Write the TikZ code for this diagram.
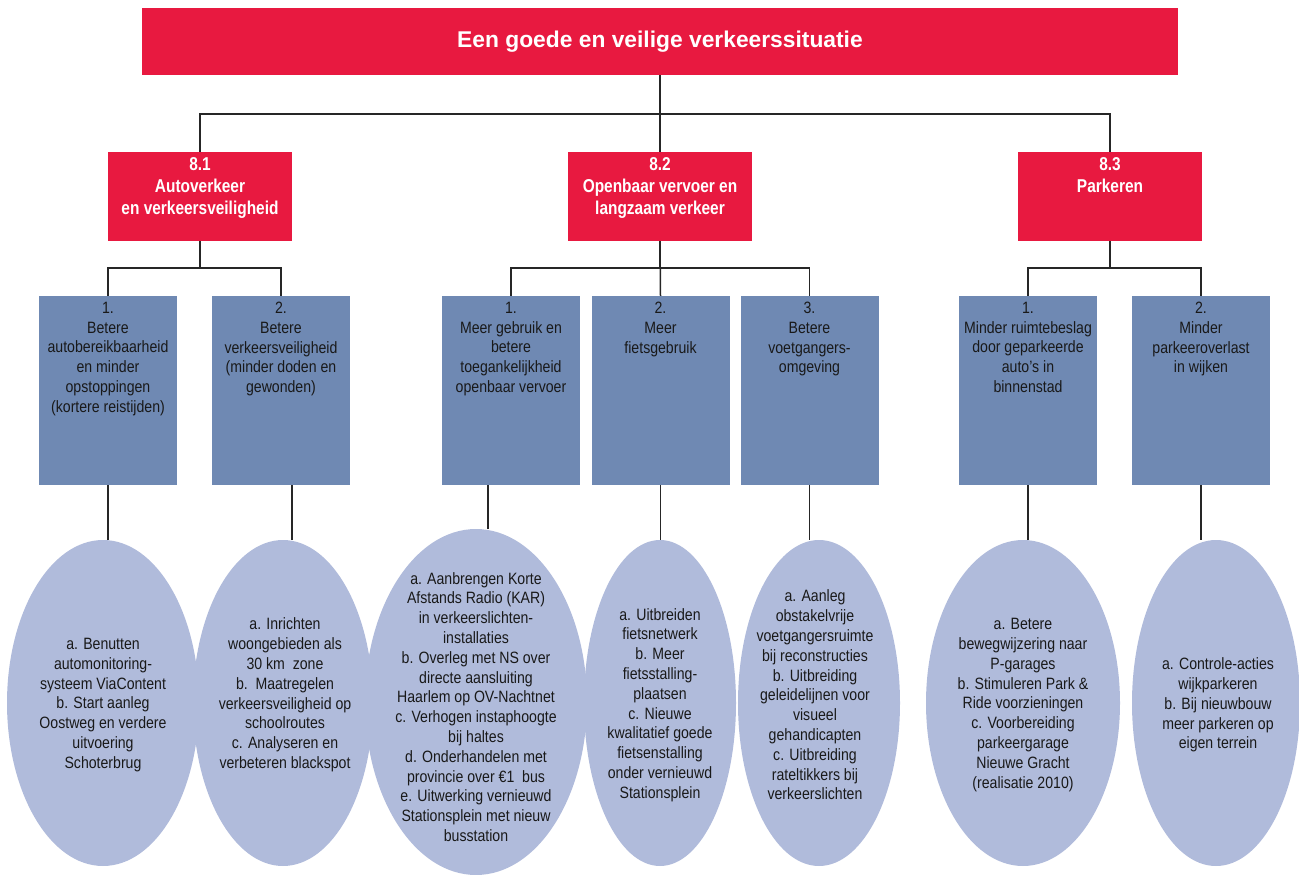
\documentclass[tikz,border=0pt]{standalone}
\usepackage{fontspec}
\setmainfont{Liberation Sans}
\newfontfamily\narrowfont{Liberation Sans}[FakeStretch=0.86]
\newfontfamily\sectionfont{Liberation Sans}[FakeStretch=0.83]
\usepackage{tikz}
\usetikzlibrary{shapes.geometric}
\usetikzlibrary{positioning}
\usetikzlibrary{calc}
\definecolor{goalred}{RGB}{232,25,64}
\definecolor{aimblue}{RGB}{111,137,179}
\definecolor{actionblue}{RGB}{176,187,219}
\begin{document}
\begin{tikzpicture}[x=1pt,y=-1pt,
  goal/.style={fill=goalred,minimum width=1036pt,minimum height=67pt,inner sep=0pt,text=white,font=\bfseries\fontsize{22.8}{27}\selectfont},
  theme/.style={fill=goalred,minimum width=184pt,minimum height=89pt,inner sep=0pt},
  themetext/.style={text=white,align=center,inner sep=0pt,font=\sectionfont\bfseries\fontsize{18.6}{22}\selectfont},
  aim/.style={fill=aimblue,minimum width=138pt,minimum height=189pt,inner sep=0pt},
  aimtext/.style={text=black!90,align=center,inner sep=0pt,font=\narrowfont\fontsize{16.4}{19.8}\selectfont},
  action/.style={ellipse,fill=actionblue,inner sep=0pt,minimum height=326pt},
  actiontext/.style={text=black!90,align=center,inner sep=0pt,font=\narrowfont\fontsize{16.4}{19.8}\selectfont},
  link/.style={line width=1.5pt,black!85}]
\useasboundingbox (0,0) rectangle (1299,875);
\node[goal] (goal) at (660,41.5) {Een goede en veilige verkeerssituatie};
\node[theme] (s1) at (200,196.5){};
\node[theme] (s2) at (660,196.5){};
\node[theme] (s3) at (1110,196.5){};
\node[themetext,below=6pt of s1.north] (ts1) {8.1\\Autoverkeer\\en verkeersveiligheid};
\node[themetext,below=6pt of s2.north] (ts2) {8.2\\Openbaar vervoer en\\langzaam verkeer};
\node[themetext,below=6pt of s3.north] (ts3) {8.3\\Parkeren};
\node[aim] (b11) at (108,390.5){};
\node[aim] (b12) at (281,390.5){};
\node[aim] (b21) at (511,390.5){};
\node[aim] (b22) at (660.5,390.5){};
\node[aim] (b23) at (809.5,390.5){};
\node[aim] (b31) at (1028,390.5){};
\node[aim] (b32) at (1201,390.5){};
\node[aimtext,below=6pt of b11.north] (tb11) {1.\\Betere\\autobereikbaarheid\\en minder\\opstoppingen\\(kortere reistijden)};
\node[aimtext,below=6pt of b12.north] (tb12) {2.\\Betere\\verkeersveiligheid\\(minder doden en\\gewonden)};
\node[aimtext,below=6pt of b21.north] (tb21) {1.\\Meer gebruik en\\betere\\toegankelijkheid\\openbaar vervoer};
\node[aimtext,below=6pt of b22.north] (tb22) {2.\\Meer\\fietsgebruik};
\node[aimtext,below=6pt of b23.north] (tb23) {3.\\Betere\\voetgangers-\\omgeving};
\node[aimtext,below=6pt of b31.north] (tb31) {1.\\Minder ruimtebeslag\\door geparkeerde\\auto’s in\\binnenstad};
\node[aimtext,below=6pt of b32.north] (tb32) {2.\\Minder\\parkeeroverlast\\in wijken};
\node[action,minimum width=192pt] (e11) at (103,703){};
\node[action,minimum width=180pt] (e12) at (283,703){};
\node[action,minimum width=222pt,minimum height=346pt] (e21) at (476,702){};
\node[action,minimum width=152pt] (e22) at (660,703){};
\node[action,minimum width=162pt] (e23) at (819,703){};
\node[action,minimum width=194pt] (e31) at (1023,703){};
\node[action,minimum width=168pt] (e32) at (1216,703){};
\node[actiontext] (te11) at (103,705) {a. Benutten\\automonitoring-\\systeem ViaContent\\b. Start aanleg\\Oostweg en verdere\\uitvoering\\Schoterbrug};
\node[actiontext] (te12) at (285,695) {a. Inrichten\\woongebieden als\\30 km\ \ zone\\b.\ \ Maatregelen\\verkeersveiligheid op\\schoolroutes\\c. Analyseren en\\verbeteren blackspot};
\node[actiontext] (te21) at (476,707) {a. Aanbrengen Korte\\Afstands Radio (KAR)\\in verkeerslichten-\\installaties\\b. Overleg met NS over\\directe aansluiting\\Haarlem op OV-Nachtnet\\c. Verhogen instaphoogte\\bij haltes\\d. Onderhandelen met\\provincie over €1\ \ bus\\e. Uitwerking vernieuwd\\Stationsplein met nieuw\\busstation};
\node[actiontext] (te22) at (660,705) {a. Uitbreiden\\fietsnetwerk\\b. Meer\\fietsstalling-\\plaatsen\\c. Nieuwe\\kwalitatief goede\\fietsenstalling\\onder vernieuwd\\Stationsplein};
\node[actiontext] (te23) at (815,695) {a. Aanleg\\obstakelvrije\\voetgangersruimte\\bij reconstructies\\b. Uitbreiding\\geleidelijnen voor\\visueel\\gehandicapten\\c. Uitbreiding\\rateltikkers bij\\verkeerslichten};
\node[actiontext] (te31) at (1023,705) {a. Betere\\bewegwijzering naar\\P-garages\\b. Stimuleren Park \&\\Ride voorzieningen\\c. Voorbereiding\\parkeergarage\\Nieuwe Gracht\\(realisatie 2010)};
\node[actiontext] (te32) at (1218,705) {a. Controle-acties\\wijkparkeren\\b. Bij nieuwbouw\\meer parkeren op\\eigen terrein};
\draw[link](goal.south)--++(0,39)-|(s1.north);
\draw[link](goal.south)--++(0,39)-|(s3.north);
\draw[link](goal.south)--(s2.north);
\draw[link](s1.south)--++(0,27)-|(b11.north);
\draw[link](s1.south)--++(0,27)-|(b12.north);
\draw[link](s2.south)--++(0,27)-|(b21.north);
\draw[link](s2.south)--++(0,27)-|(b23.north);
\draw[link](s2.south)--(b22.north);
\draw[link](s3.south)--++(0,27)-|(b31.north);
\draw[link](s3.south)--++(0,27)-|(b32.north);
\draw[link](b11.south)--(b11.south|-e11.north);
\draw[link]($(b12.south)+(11,0)$)coordinate(c12)--(c12|-e12.north);
\draw[link]($(b21.south)+(-23,0)$)coordinate(c21)--(c21|-e21.north);
\draw[link](b22.south)--(b22.south|-e22.north);
\draw[link](b23.south)--(b23.south|-e23.north);
\draw[link](b31.south)--(b31.south|-e31.north);
\draw[link](b32.south)--(b32.south|-e32.north);
\end{tikzpicture}
\end{document}
